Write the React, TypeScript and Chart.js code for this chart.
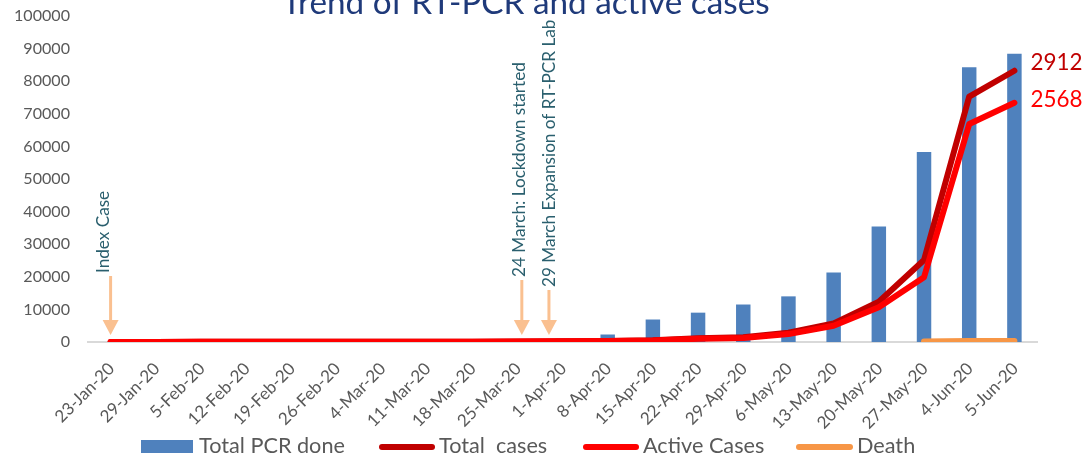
import React, { useEffect, useRef } from "react";
import { Chart, registerables } from "chart.js";
Chart.register(...registerables);

const categories = [
  "23-Jan-20", "29-Jan-20", "5-Feb-20", "12-Feb-20", "19-Feb-20", "26-Feb-20",
  "4-Mar-20", "11-Mar-20", "18-Mar-20", "25-Mar-20", "1-Apr-20", "8-Apr-20",
  "15-Apr-20", "22-Apr-20", "29-Apr-20", "6-May-20", "13-May-20", "20-May-20",
  "27-May-20", "4-Jun-20", "5-Jun-20",
];
const totalPcrDone = [0, 0, 0, 0, 0, 0, 0, 0, 0, 0, 1000, 2300, 6900, 9000, 11500, 14000, 21300, 35400, 58300, 84300, 88400];
const totalCases = [1, 1, 3, 3, 3, 3, 3, 3, 3, 5, 8, 12, 20, 40, 50, 100, 200, 433, 880, 2635, 2912];
const activeCases = [1, 1, 3, 3, 3, 3, 3, 3, 3, 5, 8, 10, 17, 35, 42, 85, 175, 373, 695, 2340, 2568];
const deaths: (number | null)[] = [null, null, null, null, null, null, null, null, null, null, null, null, null, null, null, null, null, null, 5, 10, 12];
const yMax = 100000;
const yStep = 10000;
const y1Max = 3500;
const titleText = "Trend of RT-PCR and active cases";
const annotationTexts = ["Index Case", "24 March: Lockdown started", "29 March Expansion of RT-PCR Lab"];
const annotationAt = [0, 9.1, 9.7];
const legendLabels = ["Total PCR done", "Total  cases", "Active Cases", "Death"];

const FAMILY = "Lato, 'Noto Sans', sans-serif";
const GRAY = "#595959";
const BLUE = "#4F81BD";
const DARKRED = "#C00000";
const RED = "#FF0000";
const ORANGE = "#F79646";
const ARROW = "#FAC090";
const TEAL = "#2A5F6E";
const X_TICK_SIZE = 17;

function fit(ctx: CanvasRenderingContext2D, text: string, width: number) {
  ctx.font = `100px ${FAMILY}`;
  return (100 * width) / ctx.measureText(text).width;
}

export default function App() {
  const ref = useRef<HTMLCanvasElement | null>(null);
  useEffect(() => {
    document.body.style.margin = "0";
    const canvas = ref.current!;
    const mctx = document.createElement("canvas").getContext("2d")!;
    const yTickSize = fit(mctx, "100000", 56);
    const titleSize = fit(mctx, titleText, 488);
    const legendSize = fit(mctx, "Total PCR done", 146);
    const annSize = fit(mctx, annotationTexts[1], 215);
    const endSize = fit(mctx, "2912", 52);

    const overlay = {
      id: "overlay",
      afterDraw(chart: any) {
        const ctx: CanvasRenderingContext2D = chart.ctx;
        const xs = chart.scales.x;
        ctx.save();
        // title
        ctx.fillStyle = "#1F3A7A";
        ctx.font = `${titleSize}px ${FAMILY}`;
        ctx.textAlign = "left";
        ctx.textBaseline = "alphabetic";
        ctx.fillText(titleText, 282, 14);

        // x tick labels (rotated 45°)
        ctx.fillStyle = GRAY;
        ctx.font = `${X_TICK_SIZE}px ${FAMILY}`;
        ctx.textAlign = "right";
        ctx.textBaseline = "middle";
        categories.forEach((c, i) => {
          const x = xs.getPixelForTick(i);
          ctx.save();
          ctx.translate(x + 1, xs.top + 24);
          ctx.rotate(-Math.PI / 4);
          ctx.fillText(c, 0, 0);
          ctx.restore();
        });

        // annotations
        const textBottoms = [273, 277, 287];
        const textOffsets = [-7, -2, 1];
        annotationTexts.forEach((t, i) => {
          const x = xs.getPixelForValue(annotationAt[i]);
          ctx.save();
          ctx.translate(x + textOffsets[i], textBottoms[i]);
          ctx.rotate(-Math.PI / 2);
          ctx.fillStyle = TEAL;
          ctx.font = `${annSize}px ${FAMILY}`;
          ctx.textAlign = "left";
          ctx.textBaseline = "middle";
          ctx.fillText(t, 0, 0);
          ctx.restore();
          ctx.strokeStyle = ARROW;
          ctx.lineWidth = 3;
          ctx.beginPath();
          ctx.moveTo(x, textBottoms[i] + 3);
          ctx.lineTo(x, 321);
          ctx.stroke();
          ctx.fillStyle = ARROW;
          ctx.beginPath();
          ctx.moveTo(x - 8, 320);
          ctx.lineTo(x + 8, 320);
          ctx.lineTo(x, 335);
          ctx.closePath();
          ctx.fill();
        });

        // end labels
        const endLabel = (dsIndex: number, values: number[], color: string, dy: number) => {
          const meta = chart.getDatasetMeta(dsIndex);
          const pt = meta.data[values.length - 1];
          ctx.fillStyle = color;
          ctx.font = `${endSize}px ${FAMILY}`;
          ctx.textAlign = "left";
          ctx.textBaseline = "middle";
          ctx.fillText(String(values[values.length - 1]), pt.x + 16, pt.y + dy);
        };
        endLabel(1, totalCases, DARKRED, -8);
        endLabel(2, activeCases, RED, -3);

        // legend
        ctx.font = `${legendSize}px ${FAMILY}`;
        ctx.textAlign = "left";
        ctx.textBaseline = "alphabetic";
        ctx.fillStyle = BLUE;
        ctx.fillRect(141, 440, 52, 13);
        const lines = [
          { x0: 379, x1: 435, c: DARKRED },
          { x0: 583, x1: 639, c: RED },
          { x0: 796, x1: 853, c: ORANGE },
        ];
        ctx.lineCap = "round";
        ctx.lineWidth = 6;
        lines.forEach((l) => {
          ctx.strokeStyle = l.c;
          ctx.beginPath();
          ctx.moveTo(l.x0 + 3, 447);
          ctx.lineTo(l.x1 - 3, 447);
          ctx.stroke();
        });
        const tx = [199, 439, 643, 857];
        ctx.fillStyle = GRAY;
        legendLabels.forEach((t, i) => ctx.fillText(t, tx[i], 453));
        ctx.restore();
      },
    };

    const lineCommon = {
      type: "line" as const,
      yAxisID: "y1",
      borderWidth: 6,
      pointRadius: 0,
      borderCapStyle: "round" as const,
      borderJoinStyle: "round" as const,
      tension: 0,
      fill: false,
    };

    const chart = new Chart(canvas, {
      type: "bar",
      data: {
        labels: categories,
        datasets: [
          {
            type: "bar",
            label: legendLabels[0],
            data: totalPcrDone,
            backgroundColor: BLUE,
            yAxisID: "y",
            categoryPercentage: 1,
            barPercentage: 0.32,
            order: 4,
          } as any,
          { ...lineCommon, label: legendLabels[1], data: totalCases, borderColor: DARKRED, backgroundColor: DARKRED, order: 3 },
          { ...lineCommon, label: legendLabels[2], data: activeCases, borderColor: RED, backgroundColor: RED, order: 2 },
          { ...lineCommon, label: legendLabels[3], data: deaths, borderColor: ORANGE, backgroundColor: ORANGE, order: 1 },
        ],
      },
      options: {
        responsive: false,
        animation: false,
        layout: { padding: { top: 16, right: 51, left: 0, bottom: 0 } },
        plugins: {
          legend: { display: false },
          title: { display: false },
          tooltip: { enabled: false },
        },
        scales: {
          x: {
            grid: { display: false },
            border: { display: true, color: "#D9D9D9", width: 2 },
            ticks: { display: false, autoSkip: false },
            afterFit(scale: any) {
              scale.height = 117;
              scale.paddingLeft = 0;
              scale.paddingRight = 0;
            },
          },
          y: {
            min: 0,
            max: yMax,
            grid: { display: false },
            border: { display: false },
            ticks: {
              stepSize: yStep,
              padding: 10,
              color: GRAY,
              font: { family: FAMILY, size: yTickSize },
              callback: (v: any) => String(v),
            },
            afterFit(scale: any) {
              scale.width = 88;
              scale.paddingTop = 0;
              scale.paddingBottom = 0;
            },
          },
          y1: {
            display: false,
            min: 0,
            max: y1Max,
          },
        },
      } as any,
      plugins: [overlay],
    });
    return () => chart.destroy();
  }, []);

  return <canvas ref={ref} width={1088} height={459} style={{ display: "block" }} />;
}
